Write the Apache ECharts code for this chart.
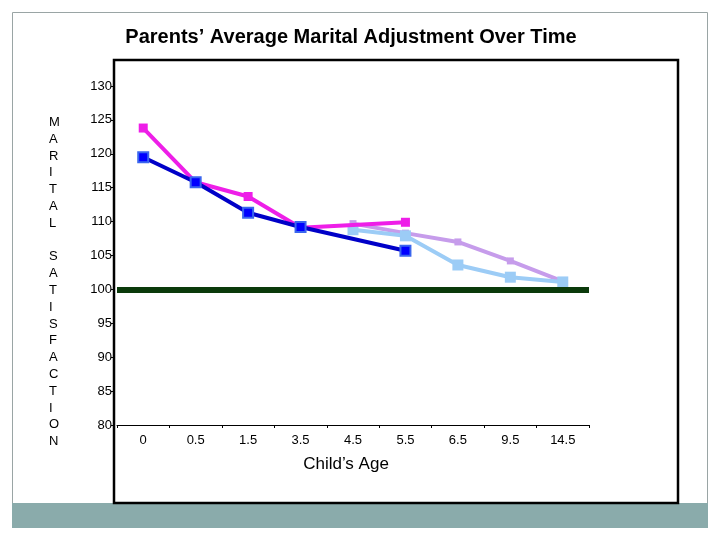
<!DOCTYPE html>
<html>
<head>
<meta charset="utf-8">
<script src="https://cdn.jsdelivr.net/npm/echarts@6/dist/echarts.min.js"></script>
<style>html,body{margin:0;padding:0;background:#fff;}#c{width:720px;height:540px;}</style>
</head>
<body>
<div id="c"></div>
<script>
const categories = ['0', '0.5', '1.5', '3.5', '4.5', '5.5', '6.5', '9.5', '14.5'];
const blueValues = [119.5, 115.8, 111.3, 109.2, null, 105.7, null, null, null];
const magentaValues = [123.8, 115.8, 113.7, 109.1, null, 109.9, null, null, null];
const lavenderValues = [null, null, null, null, 109.7, 108.3, 107.0, 104.2, 101.2];
const lightBlueValues = [null, null, null, null, 108.8, 107.9, 103.6, 101.8, 101.1];
const yMin = 80, yMax = 130, yStep = 5;
const referenceValue = 100;
const titleText = 'Parents\u2019 Average Marital Adjustment Over Time';
const xAxisName = 'Child\u2019s Age';
const yAxisName = 'MARITAL SATISFACTION';

const chart = echarts.init(document.getElementById('c'));
const yLetters = yAxisName.split('').map(c => c === ' ' ? '' : c).join('\n');

chart.setOption({
  backgroundColor: '#fff',
  animation: false,
  title: {
    text: titleText, left: 346, top: 22, textAlign: 'center',
    textStyle: { fontFamily: 'Liberation Sans, Arial', fontWeight: 'bold', fontSize: 20, color: '#000' }
  },
  graphic: [
    { type: 'rect', z: -10, shape: { x: 12.5, y: 12.5, width: 695, height: 515 }, style: { fill: '#fff', stroke: '#9aa5a5', lineWidth: 1 } },
    { type: 'rect', z: -9, shape: { x: 12, y: 503, width: 696, height: 25 }, style: { fill: '#8aabab' } },
    { type: 'rect', z: -8, shape: { x: 114, y: 60, width: 564, height: 443 }, style: { fill: '#fff', stroke: '#000', lineWidth: 2.5 } },
    { type: 'text', left: 49, top: 114, style: { text: yLetters, font: '13px Liberation Sans, Arial', fill: '#000', lineHeight: 16.8, align: 'center', width: 14 } }
  ],
  grid: { left: 117, right: 131, top: 86, bottom: 115, containLabel: false },
  xAxis: {
    type: 'category', data: categories, boundaryGap: true,
    axisLine: { show: true, lineStyle: { color: '#000', width: 1 } },
    axisTick: { show: true, length: 3, inside: false, lineStyle: { color: '#000' } },
    axisLabel: { margin: 9, fontSize: 13, fontFamily: 'Liberation Sans, Arial', color: '#000' },
    name: xAxisName, nameLocation: 'middle', nameGap: 31,
    nameTextStyle: { fontSize: 17, fontFamily: 'Liberation Sans, Arial', color: '#000', padding: [0, 14, 0, 0] }
  },
  yAxis: {
    type: 'value', min: yMin, max: yMax, interval: yStep, offset: 3,
    axisLine: { show: false },
    axisTick: { show: true, length: 3, lineStyle: { color: '#000' } },
    axisLabel: { margin: 2, fontSize: 13, fontFamily: 'Liberation Sans, Arial', color: '#000' },
    splitLine: { show: false }
  },
  series: [
    {
      type: 'line', data: lavenderValues, connectNulls: true, symbol: 'rect', symbolSize: 7,
      lineStyle: { color: '#c69ceb', width: 4 }, itemStyle: { color: '#c69ceb' }, z: 3,
      markLine: {
        silent: true, symbol: 'none', label: { show: false },
        lineStyle: { color: '#0b3a0b', width: 6, type: 'solid' },
        data: [{ yAxis: referenceValue }]
      }
    },
    {
      type: 'line', data: lightBlueValues, connectNulls: true, symbol: 'rect', symbolSize: 11,
      lineStyle: { color: '#9cccf6', width: 4 }, itemStyle: { color: '#9cccf6' }, z: 4
    },
    {
      type: 'line', data: magentaValues, connectNulls: true, symbol: 'rect', symbolSize: 9,
      lineStyle: { color: '#ee1ee8', width: 4 }, itemStyle: { color: '#ee1ee8' }, z: 5
    },
    {
      type: 'line', data: blueValues, connectNulls: true, symbol: 'rect', symbolSize: 10,
      lineStyle: { color: '#0000c8', width: 4 }, itemStyle: { color: '#0000ff', borderColor: '#3a66ee', borderWidth: 2 }, z: 6
    }
  ]
});
</script>
</body>
</html>
